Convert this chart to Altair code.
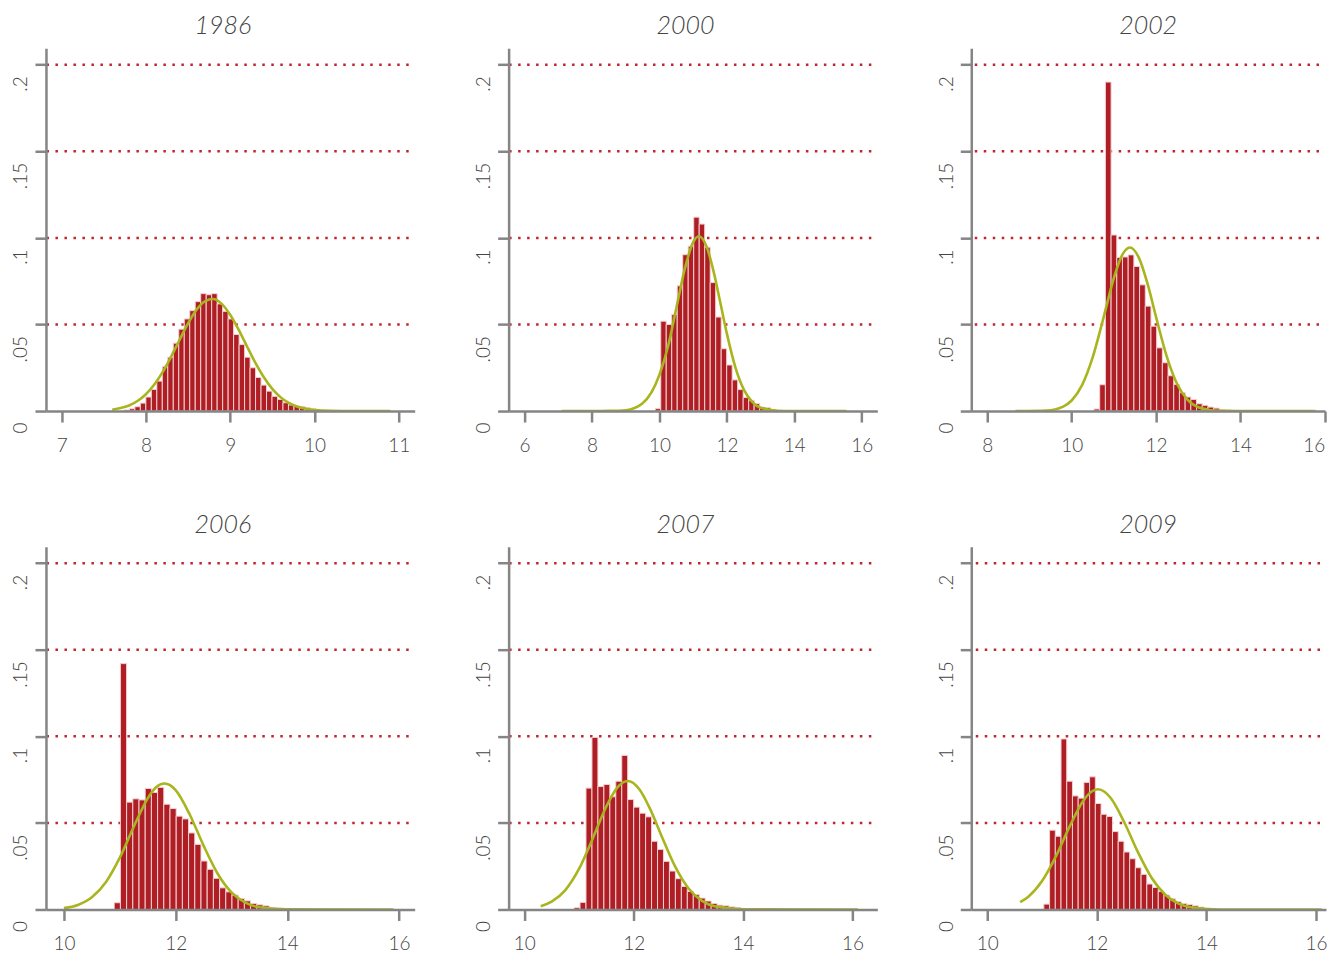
import json
import altair as alt
import pandas as pd

# ------------------------------------------------------------------ data
titles = ["1986", "2000", "2002", "2006", "2007", "2009"]

# histogram bins (fraction of observations per bin)
start_1986, width_1986 = 7.739, 0.0651
frac_1986 = [0.0006, 0.0013, 0.0025, 0.0046, 0.0081, 0.0125, 0.0173, 0.0256, 0.0311,
             0.0392, 0.0473, 0.0532, 0.0580, 0.0632, 0.0678, 0.0672, 0.0678, 0.0619,
             0.0576, 0.0532, 0.0442, 0.0384, 0.0311, 0.0250, 0.0194, 0.0150, 0.0115,
             0.0085, 0.0067, 0.0048, 0.0035, 0.0029, 0.0027, 0.0019, 0.0015]

start_2000, width_2000 = 9.875, 0.163
frac_2000 = [0.0014, 0.0519, 0.0500, 0.0558, 0.0723, 0.0903, 0.0952, 0.1120, 0.1080,
             0.0946, 0.0742, 0.0543, 0.0360, 0.0266, 0.0180, 0.0124, 0.0078, 0.0062,
             0.0043, 0.0023, 0.0019, 0.0010, 0.0004]

start_2002, width_2002 = 10.53, 0.135
frac_2002 = [0.0012, 0.0152, 0.1900, 0.1017, 0.0887, 0.0890, 0.0902, 0.0835, 0.0729,
             0.0606, 0.0490, 0.0365, 0.0279, 0.0204, 0.0154, 0.0106, 0.0081, 0.0067,
             0.0042, 0.0033, 0.0023, 0.0017, 0.0008, 0.0006]

start_2006, width_2006 = 10.90, 0.111
frac_2006 = [0.0039, 0.1420, 0.0620, 0.0639, 0.0633, 0.0699, 0.0676, 0.0705, 0.0608,
             0.0583, 0.0539, 0.0523, 0.0442, 0.0376, 0.0280, 0.0232, 0.0180, 0.0125,
             0.0102, 0.0083, 0.0064, 0.0050, 0.0035, 0.0027, 0.0021, 0.0012, 0.0008]

start_2007, width_2007 = 10.91, 0.109
frac_2007 = [0.0010, 0.0041, 0.0701, 0.0994, 0.0710, 0.0722, 0.0651, 0.0741, 0.0890,
             0.0635, 0.0591, 0.0556, 0.0535, 0.0394, 0.0347, 0.0278, 0.0222, 0.0178,
             0.0133, 0.0104, 0.0087, 0.0066, 0.0049, 0.0035, 0.0025, 0.0021, 0.0015,
             0.0012, 0.0006]

start_2009, width_2009 = 11.033, 0.1044
frac_2009 = [0.0031, 0.0458, 0.0423, 0.0985, 0.0741, 0.0656, 0.0643, 0.0734, 0.0766,
             0.0612, 0.0550, 0.0537, 0.0450, 0.0394, 0.0332, 0.0293, 0.0241, 0.0203,
             0.0147, 0.0127, 0.0104, 0.0083, 0.0062, 0.0046, 0.0035, 0.0029, 0.0021,
             0.0014, 0.0008, 0.0006]

# overlaid density curves
curve_x_1986 = [7.6, 7.7, 7.8, 7.9, 8.0, 8.1, 8.2, 8.3, 8.4, 8.5, 8.6, 8.7, 8.8, 8.9,
                9.0, 9.1, 9.2, 9.3, 9.4, 9.5, 9.6, 9.7, 9.8, 9.9, 10.0, 10.2, 10.5, 10.9]
curve_y_1986 = [0.0008, 0.0017, 0.0032, 0.0058, 0.0097, 0.0153, 0.0226, 0.0315, 0.0412,
                0.0506, 0.0585, 0.0634, 0.0647, 0.0619, 0.0556, 0.0470, 0.0373, 0.0278,
                0.0195, 0.0128, 0.0079, 0.0046, 0.0025, 0.0013, 0.0006, 0.0001, 0.0, 0.0]

curve_x_2000 = [7.1, 8.0, 8.5, 9.0, 9.5, 10.0, 10.25, 10.5, 10.75, 11.0, 11.17, 11.4,
                11.6, 11.8, 12.0, 12.25, 12.5, 12.75, 13.0, 13.5, 14.0, 15.55]
curve_y_2000 = [0.0, 0.0, 0.0001, 0.0005, 0.0045, 0.0210, 0.0370, 0.0594, 0.0820,
                0.0976, 0.1010, 0.0949, 0.0811, 0.0631, 0.0447, 0.0254, 0.0125, 0.0053,
                0.0019, 0.0002, 0.0, 0.0]

curve_x_2002 = [8.67, 9.4, 9.8, 10.0, 10.25, 10.5, 10.75, 11.0, 11.2, 11.38, 11.6, 11.8,
                12.0, 12.25, 12.5, 12.75, 13.0, 13.5, 14.0, 15.78]
curve_y_2002 = [0.0, 0.0003, 0.0026, 0.0061, 0.0151, 0.0311, 0.0534, 0.0768, 0.0902,
                0.0945, 0.0882, 0.0734, 0.0544, 0.0319, 0.0156, 0.0064, 0.0022, 0.0001,
                0.0, 0.0]

curve_x_2006 = [10.0, 10.25, 10.5, 10.75, 11.0, 11.25, 11.5, 11.65, 11.8, 11.9, 12.0,
                12.25, 12.5, 12.75, 13.0, 13.25, 13.5, 14.0, 15.9]
curve_y_2006 = [0.0008, 0.0026, 0.0070, 0.0157, 0.0299, 0.0478, 0.0642, 0.0706, 0.0728,
                0.0718, 0.0689, 0.0550, 0.0369, 0.0208, 0.0099, 0.0039, 0.0013, 0.0001, 0.0]

curve_x_2007 = [10.3, 10.5, 10.75, 11.0, 11.25, 11.5, 11.7, 11.89, 12.1, 12.3, 12.5,
                12.75, 13.0, 13.25, 13.5, 14.0, 16.1]
curve_y_2007 = [0.0019, 0.0045, 0.0112, 0.0234, 0.0409, 0.0595, 0.0704, 0.0742, 0.0696,
                0.0581, 0.0432, 0.0253, 0.0123, 0.0050, 0.0017, 0.0001, 0.0]

curve_x_2009 = [10.6, 10.75, 11.0, 11.25, 11.5, 11.75, 11.9, 12.02, 12.14, 12.25, 12.5,
                12.75, 13.0, 13.25, 13.5, 13.75, 14.0, 14.5, 16.1]
curve_y_2009 = [0.0042, 0.0074, 0.0164, 0.0305, 0.0477, 0.0627, 0.0680, 0.0694, 0.0680,
                0.0645, 0.0504, 0.0331, 0.0183, 0.0085, 0.0033, 0.0011, 0.0003, 0.0, 0.0]

# axis ticks
x_ticks_1986 = [7, 8, 9, 10, 11]
x_ticks_2000 = [6, 8, 10, 12, 14, 16]
x_ticks_2002 = [8, 10, 12, 14, 16]
x_ticks_late = [10, 12, 14, 16]
y_ticks = [0, 0.05, 0.1, 0.15, 0.2]
y_tick_labels = ["0", ".05", ".1", ".15", ".2"]
grid_levels = [0.05, 0.1, 0.15, 0.2]

# ------------------------------------------------------------------ style
FONT = "Lato"
BAR = "#b01e25"
BAR_EDGE = "#f3d2d2"
GREEN = "#a9b51e"
GRID = "#c0262c"
AXIS = "#858585"
TXT = "#444444"
Y_TOP = 0.2095
PANEL_H = 363

y_label_expr = json.dumps(y_tick_labels) + "[round(datum.value / 0.05)]"


def x_axis(ticks, flush):
    kw = dict(values=ticks, title=None, grid=False, domainColor=AXIS,
              domainWidth=2.5, tickColor=AXIS, tickWidth=2.5, tickSize=11,
              labelFont=FONT, labelFontSize=19, labelFontWeight=300,
              labelColor=TXT, labelPadding=14, labelBaseline="top",
              labelOverlap=False, format="d", zindex=1)
    kw["labelFlush"] = 5 if flush else False
    return alt.Axis(**kw)


y_axis = alt.Axis(values=y_ticks, title=None, grid=False, domainColor=AXIS,
                  domainWidth=2.5, tickColor=AXIS, tickWidth=2.5, tickSize=11,
                  labelFont=FONT, labelFontSize=19, labelFontWeight=300,
                  labelColor=TXT, labelAngle=270, labelAlign="right",
                  labelBaseline="alphabetic", labelPadding=8, labelOffset=11,
                  labelExpr=y_label_expr, labelFlush=False, labelOverlap=False,
                  zindex=1)


def panel(title, start, bw, fracs, cx, cy, ticks, dom, w, flush=False):
    xs = alt.Scale(domain=dom, nice=False, zero=False)
    ys = alt.Scale(domain=[0, Y_TOP], nice=False)
    xa = x_axis(ticks, flush)
    bars = pd.DataFrame({"x0": [start + i * bw for i in range(len(fracs))],
                         "frac": fracs})
    bars["x1"] = bars["x0"] + bw
    bars["base"] = 0.0
    grid = alt.Chart(pd.DataFrame({"g": grid_levels})).mark_rule(
        color=GRID, strokeWidth=2.5, strokeDash=[2.5, 6.5], strokeDashOffset=-6
    ).encode(y=alt.Y("g:Q", scale=ys, axis=y_axis))
    bar = alt.Chart(bars).mark_rect(fill=BAR, stroke=BAR_EDGE, strokeWidth=1).encode(
        x=alt.X("x0:Q", scale=xs, axis=xa),
        x2="x1:Q",
        y=alt.Y("frac:Q", scale=ys, axis=y_axis),
        y2="base:Q",
    )
    line = alt.Chart(pd.DataFrame({"cx": cx, "cy": cy})).mark_line(
        color=GREEN, strokeWidth=2.6, interpolate="monotone", clip=True
    ).encode(
        x=alt.X("cx:Q", scale=xs, axis=xa),
        y=alt.Y("cy:Q", scale=ys, axis=y_axis),
    )
    head = alt.Chart(pd.DataFrame({"t": [title]})).mark_text(
        font=FONT, fontSize=25, fontStyle="italic", fontWeight=300, color=TXT,
        align="center", baseline="middle"
    ).encode(text="t:N", x=alt.value(177), y=alt.value(-22))
    return alt.layer(grid, bar, line, head).properties(width=w, height=PANEL_H)


panels = [
    panel(titles[0], start_1986, width_1986, frac_1986, curve_x_1986, curve_y_1986,
          x_ticks_1986, [6.814, 11.19], 369),
    panel(titles[1], start_2000, width_2000, frac_2000, curve_x_2000, curve_y_2000,
          x_ticks_2000, [5.526, 16.463], 369),
    panel(titles[2], start_2002, width_2002, frac_2002, curve_x_2002, curve_y_2002,
          x_ticks_2002, [7.621, 16.005], 354, flush=True),
    panel(titles[3], start_2006, width_2006, frac_2006, curve_x_2006, curve_y_2006,
          x_ticks_late, [9.678, 16.281], 369),
    panel(titles[4], start_2007, width_2007, frac_2007, curve_x_2007, curve_y_2007,
          x_ticks_late, [9.713, 16.456], 369),
    panel(titles[5], start_2009, width_2009, frac_2009, curve_x_2009, curve_y_2009,
          x_ticks_late, [9.708, 16.183], 355),
]

chart = alt.concat(*panels, columns=3, spacing={"row": 135.8, "column": 94},
                   bounds="flush", align="each").properties(
    background="white",
    padding={"left": 3, "top": 6, "right": 0, "bottom": 0},
).configure_view(stroke=None)

chart.save("out.html", embed_options={"renderer": "svg", "actions": False})
